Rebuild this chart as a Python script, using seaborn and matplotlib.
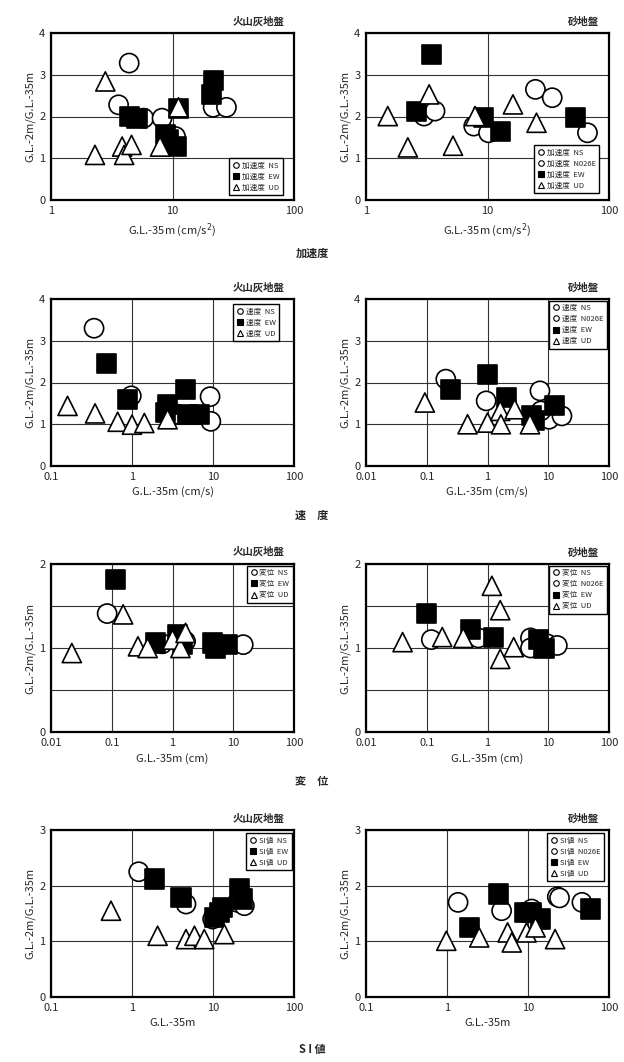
import numpy as np
import pandas as pd
import matplotlib
matplotlib.use("Agg")
import matplotlib.pyplot as plt
from matplotlib.lines import Line2D
from matplotlib.ticker import FuncFormatter, FixedLocator, NullLocator
import seaborn as sns

# ---- data ----
# acceleration, volcanic ash ground
acc_ash_ns_x = [4.4, 3.6, 5.8, 8.2, 10.6, 21.6, 27.8]
acc_ash_ns_y = [3.28, 2.28, 1.96, 1.96, 1.52, 2.22, 2.22]
acc_ash_ew_x = [4.4, 5.1, 8.7, 9.2, 10.8, 11.2, 21.6, 21.0]
acc_ash_ew_y = [2.0, 1.96, 1.56, 1.44, 1.28, 2.2, 2.86, 2.52]
acc_ash_ud_x = [2.3, 2.8, 3.85, 4.0, 4.6, 7.9, 11.2]
acc_ash_ud_y = [1.08, 2.84, 1.28, 1.08, 1.32, 1.28, 2.22]

# acceleration, sand ground
acc_sand_ns_x = [3.0, 7.7, 24.8]
acc_sand_ns_y = [2.01, 1.77, 2.65]
acc_sand_n026e_x = [3.7, 10.2, 34.1, 66.5]
acc_sand_n026e_y = [2.13, 1.61, 2.45, 1.61]
acc_sand_ew_x = [3.46, 2.6, 9.3, 12.7, 53.3]
acc_sand_ew_y = [3.48, 2.13, 1.97, 1.65, 1.97]
acc_sand_ud_x = [1.51, 2.21, 3.31, 5.2, 7.9, 16.2, 25.3]
acc_sand_ud_y = [2.01, 1.26, 2.53, 1.30, 2.01, 2.29, 1.85]

# velocity, volcanic ash ground
vel_ash_ns_x = [0.34, 0.98, 3.66, 9.2, 9.4]
vel_ash_ns_y = [3.30, 1.68, 1.24, 1.66, 1.07]
vel_ash_ew_x = [0.48, 0.89, 2.75, 2.6, 4.55, 4.9, 6.8]
vel_ash_ew_y = [2.45, 1.60, 1.48, 1.28, 1.84, 1.24, 1.24]
vel_ash_ud_x = [0.16, 0.35, 0.665, 1.0, 1.42, 2.75]
vel_ash_ud_y = [1.44, 1.26, 1.06, 0.99, 1.03, 1.12]

# velocity, sand ground
vel_sand_ns_x = [0.206, 7.3, 10.3]
vel_sand_ns_y = [2.08, 1.80, 1.12]
vel_sand_n026e_x = [0.95, 7.6, 16.8]
vel_sand_n026e_y = [1.56, 1.32, 1.20]
vel_sand_ew_x = [0.25, 0.99, 2.04, 5.3, 6.0, 12.6]
vel_sand_ew_y = [1.84, 2.20, 1.64, 1.20, 1.08, 1.44]
vel_sand_ud_x = [0.093, 0.47, 1.0, 1.62, 1.66, 2.8, 5.0]
vel_sand_ud_y = [1.52, 1.00, 1.04, 1.32, 1.00, 1.36, 1.00]

# displacement, volcanic ash ground
disp_ash_ns_x = [0.084, 0.68, 1.64, 14.6]
disp_ash_ns_y = [1.41, 1.05, 1.08, 1.04]
disp_ash_ew_x = [0.115, 0.525, 1.19, 1.44, 4.5, 5.1, 7.96]
disp_ash_ew_y = [1.82, 1.06, 1.16, 1.04, 1.06, 1.00, 1.04]
disp_ash_ud_x = [0.022, 0.154, 0.27, 0.39, 1.0, 1.35, 1.64]
disp_ash_ud_y = [0.94, 1.40, 1.02, 1.00, 1.10, 1.00, 1.18]

# displacement, sand ground
disp_sand_ns_x = [0.119, 5.1, 9.6]
disp_sand_ns_y = [1.10, 1.12, 1.05]
disp_sand_n026e_x = [0.71, 5.1, 14.1]
disp_sand_n026e_y = [1.12, 1.00, 1.03]
disp_sand_ew_x = [0.099, 0.52, 1.26, 6.8, 8.5]
disp_sand_ew_y = [1.41, 1.22, 1.13, 1.10, 0.99]
disp_sand_ud_x = [0.04, 0.18, 0.40, 1.18, 1.62, 1.62, 2.7]
disp_sand_ud_y = [1.07, 1.13, 1.12, 1.74, 1.45, 0.87, 1.01]

# SI value, volcanic ash ground
si_ash_ns_x = [1.21, 4.64, 9.9, 20.0, 24.4]
si_ash_ns_y = [2.25, 1.67, 1.40, 1.70, 1.64]
si_ash_ew_x = [1.89, 4.03, 10.4, 12.0, 13.1, 21.1, 23.2]
si_ash_ew_y = [2.12, 1.79, 1.43, 1.52, 1.61, 1.94, 1.76]
si_ash_ud_x = [0.55, 2.07, 4.64, 5.9, 7.8, 13.8]
si_ash_ud_y = [1.55, 1.10, 1.04, 1.10, 1.04, 1.13]

# SI value, sand ground
si_sand_ns_x = [1.37, 11.1, 23.0]
si_sand_ns_y = [1.70, 1.58, 1.80]
si_sand_n026e_x = [4.72, 24.5, 46.3]
si_sand_n026e_y = [1.55, 1.78, 1.70]
si_sand_ew_x = [1.91, 4.28, 9.2, 11.1, 14.1, 58.7]
si_sand_ew_y = [1.25, 1.85, 1.52, 1.52, 1.40, 1.58]
si_sand_ud_x = [0.98, 2.5, 5.6, 6.3, 9.6, 12.4, 21.6]
si_sand_ud_y = [1.01, 1.07, 1.16, 0.98, 1.16, 1.25, 1.04]

sns.set_theme(style="white")
plt.rcParams['font.family'] = ['Noto Sans CJK JP', 'DejaVu Sans']
plt.rcParams['mathtext.fontset'] = 'dejavusans'

markers = {'NS': 'o', 'N026E': 'o', 'EW': 's', 'UD': '^'}
faces = {'NS': 'white', 'N026E': 'white', 'EW': 'black', 'UD': 'white'}


def make_df(series):
    rows = []
    for comp, xs, ys in series:
        for x, y in zip(xs, ys):
            rows.append({'x': x, 'y': y, 'comp': comp})
    return pd.DataFrame(rows)


def draw_panel(ax, series, quantity, ground, xlim, ylim, xlabel, leg_loc, leg_anchor):
    df = make_df(series)
    comps = [s[0] for s in series]
    sns.scatterplot(data=df, x='x', y='y', hue='comp', style='comp',
                    hue_order=comps, style_order=comps,
                    palette=faces, markers=markers, s=190,
                    edgecolor='black', linewidth=1.2, legend=False, ax=ax, zorder=3)
    ax.set_xscale('log')
    ax.set_xlim(xlim)
    ax.set_ylim(ylim)
    ax.xaxis.set_minor_locator(NullLocator())
    ax.xaxis.set_major_formatter(FuncFormatter(lambda v, p: '%g' % v))
    if ylim[1] == 2:
        ax.set_yticks([0, 1, 2])
        ax.yaxis.set_minor_locator(FixedLocator([0.5, 1.5]))
    else:
        ax.set_yticks(np.arange(0, ylim[1] + 1))
    ax.grid(True, which='both', color='#333333', linewidth=0.8)
    ax.tick_params(which='both', length=0, labelsize=8, pad=4)
    for sp in ax.spines.values():
        sp.set_color('black')
        sp.set_linewidth(1.6)
    ax.set_xlabel(xlabel, fontsize=8, labelpad=4)
    ax.set_ylabel('G.L.-2m/G.L.-35m', fontsize=8, labelpad=3)
    ax.text(0.96, 1.04, ground, transform=ax.transAxes, ha='right', va='bottom',
            fontsize=7.5, fontweight='bold')
    handles = []
    for comp in comps:
        handles.append(Line2D([], [], marker=markers[comp], linestyle='',
                              markerfacecolor=faces[comp], markeredgecolor='black',
                              markeredgewidth=0.8, markersize=4,
                              label=quantity + '  ' + comp))
    leg = ax.legend(handles=handles, loc=leg_loc, bbox_to_anchor=leg_anchor,
                    fontsize=5.5, borderpad=0.45, labelspacing=0.4,
                    handletextpad=0.3, handlelength=0.9, borderaxespad=0,
                    frameon=True, fancybox=False, framealpha=1,
                    edgecolor='black')
    leg.get_frame().set_linewidth(1.0)
    leg.set_zorder(5)


fig = plt.figure(figsize=(6.24, 10.62), dpi=100)
W, H = 624.0, 1062.0
cols = [(51, 294), (366, 609)]
rows = [(33, 200), (299, 466), (564, 732), (830, 997)]
axes = []
for (top, bot) in rows:
    row_axes = []
    for (l, r) in cols:
        row_axes.append(fig.add_axes([l / W, 1 - bot / H, (r - l) / W, (bot - top) / H]))
    axes.append(row_axes)

acc_label = 'G.L.-35m (cm/s$^2$)'
draw_panel(axes[0][0], [('NS', acc_ash_ns_x, acc_ash_ns_y),
                        ('EW', acc_ash_ew_x, acc_ash_ew_y),
                        ('UD', acc_ash_ud_x, acc_ash_ud_y)],
           '加速度', '火山灰地盤', (1, 100), (0, 4), acc_label,
           'lower right', (0.955, 0.03))
draw_panel(axes[0][1], [('NS', acc_sand_ns_x, acc_sand_ns_y),
                        ('N026E', acc_sand_n026e_x, acc_sand_n026e_y),
                        ('EW', acc_sand_ew_x, acc_sand_ew_y),
                        ('UD', acc_sand_ud_x, acc_sand_ud_y)],
           '加速度', '砂地盤', (1, 100), (0, 4), acc_label,
           'lower right', (0.96, 0.04))

draw_panel(axes[1][0], [('NS', vel_ash_ns_x, vel_ash_ns_y),
                        ('EW', vel_ash_ew_x, vel_ash_ew_y),
                        ('UD', vel_ash_ud_x, vel_ash_ud_y)],
           '速度', '火山灰地盤', (0.1, 100), (0, 4), 'G.L.-35m (cm/s)',
           'upper right', (0.94, 0.97))
draw_panel(axes[1][1], [('NS', vel_sand_ns_x, vel_sand_ns_y),
                        ('N026E', vel_sand_n026e_x, vel_sand_n026e_y),
                        ('EW', vel_sand_ew_x, vel_sand_ew_y),
                        ('UD', vel_sand_ud_x, vel_sand_ud_y)],
           '速度', '砂地盤', (0.01, 100), (0, 4), 'G.L.-35m (cm/s)',
           'upper right', (0.99, 0.99))

draw_panel(axes[2][0], [('NS', disp_ash_ns_x, disp_ash_ns_y),
                        ('EW', disp_ash_ew_x, disp_ash_ew_y),
                        ('UD', disp_ash_ud_x, disp_ash_ud_y)],
           '変位', '火山灰地盤', (0.01, 100), (0, 2), 'G.L.-35m (cm)',
           'upper right', (0.995, 0.99))
draw_panel(axes[2][1], [('NS', disp_sand_ns_x, disp_sand_ns_y),
                        ('N026E', disp_sand_n026e_x, disp_sand_n026e_y),
                        ('EW', disp_sand_ew_x, disp_sand_ew_y),
                        ('UD', disp_sand_ud_x, disp_sand_ud_y)],
           '変位', '砂地盤', (0.01, 100), (0, 2), 'G.L.-35m (cm)',
           'upper right', (0.99, 0.99))

draw_panel(axes[3][0], [('NS', si_ash_ns_x, si_ash_ns_y),
                        ('EW', si_ash_ew_x, si_ash_ew_y),
                        ('UD', si_ash_ud_x, si_ash_ud_y)],
           'SI値', '火山灰地盤', (0.1, 100), (0, 3), 'G.L.-35m',
           'upper right', (0.99, 0.98))
draw_panel(axes[3][1], [('NS', si_sand_ns_x, si_sand_ns_y),
                        ('N026E', si_sand_n026e_x, si_sand_n026e_y),
                        ('EW', si_sand_ew_x, si_sand_ew_y),
                        ('UD', si_sand_ud_x, si_sand_ud_y)],
           'SI値', '砂地盤', (0.1, 100), (0, 3), 'G.L.-35m',
           'upper right', (0.98, 0.98))

# section captions under each row
for label, ypix in [('加速度', 253), ('速　度', 515), ('変　位', 781), ('S I 値', 1050)]:
    fig.text(0.5, 1 - ypix / H, label, ha='center', va='center',
             fontsize=8, fontweight='bold')

fig.savefig('out.png', dpi=100)
